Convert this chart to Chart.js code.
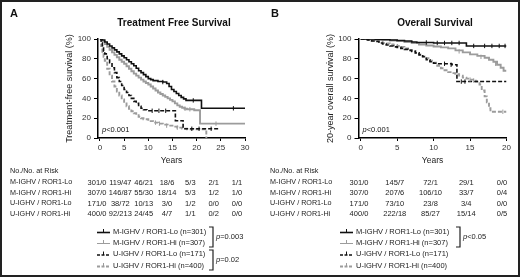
<!DOCTYPE html>
<html>
<head>
<meta charset="utf-8">
<script src="https://cdn.jsdelivr.net/npm/chart.js@4.4.1/dist/chart.umd.min.js"></script>
<style>
    body { margin: 0; background: #fff; }
    #quadro { position: relative; width: 520px; height: 277px; overflow: hidden; }
    canvas { position: absolute; top: 0; }
    #borda { position: absolute; left: 0; top: 0; width: 520px; height: 277px; box-sizing: border-box; border: 2px solid #222; pointer-events: none; }
</style>
</head>
<body>
<div id="quadro">
    <canvas id="chartA" width="260" height="277" style="left:0"></canvas>
    <canvas id="chartB" width="260" height="277" style="left:260px"></canvas>
    <div id="borda"></div>
</div>
<script>
//-------------------------------------------------------------------------------------------
//                                Data
//-------------------------------------------------------------------------------------------
const grupos = ["M-IGHV / ROR1-Lo", "M-IGHV / ROR1-Hi", "U-IGHV / ROR1-Lo", "U-IGHV / ROR1-Hi"];
const nGrupos = [301, 307, 171, 400];

// -------- Panel A: treatment free survival ------------------------------------------------
const tfsMLoT = [0, 0.5, 1, 1.5, 2, 2.5, 3, 3.5, 4, 4.5, 5, 5.5, 6, 6.5, 7, 7.5, 8, 8.5, 9, 9.5, 10, 10.5, 11, 12, 13, 13.8, 14.3, 14.8, 15.3, 15.8, 16.3, 16.8, 17.3, 17.8, 21, 30];
const tfsMLoS = [100, 99, 97, 95, 93, 91, 89, 87, 85, 83, 81, 79, 77, 75, 73, 70.5, 68, 66, 64, 62, 60, 59, 58, 57, 56.5, 55, 52, 49, 47, 45, 43, 41, 39.5, 38, 30, 30];
const tfsMHiT = [0, 0.5, 1, 1.5, 2, 2.5, 3, 3.5, 4, 4.5, 5, 5.5, 6, 6.5, 7, 7.5, 8, 8.5, 9, 9.5, 10, 10.5, 11, 11.5, 12, 12.5, 13, 13.5, 14, 14.5, 15, 15.5, 16, 16.5, 17, 17.5, 18, 19.5, 20.7, 30];
const tfsMHiS = [100, 97.5, 95, 92, 89, 86.5, 84, 81.5, 79, 77, 75, 72.5, 70, 67.5, 65, 63, 61, 59, 57, 55.5, 54, 52, 50, 48, 46, 44.5, 43, 41.5, 40, 38.5, 37, 35, 33, 31.5, 30.5, 29.5, 29, 28, 14.5, 14.5];
const tfsULoT = [0, 0.25, 0.5, 0.75, 1, 1.5, 2, 2.5, 3, 3.5, 4, 4.5, 5, 5.5, 6, 6.5, 7, 7.5, 8, 8.5, 9, 9.7, 15.6, 17.2, 24.5];
const tfsULoS = [100, 96, 92, 88, 85, 80, 76, 71, 66, 61, 57, 53, 49, 46, 43, 40, 37, 35, 32, 30, 28.5, 27.5, 17.5, 9.3, 9.3];
const tfsUHiT = [0, 0.25, 0.5, 0.75, 1, 1.5, 2, 2.5, 3, 3.5, 4, 4.5, 5, 5.5, 6, 6.5, 7, 7.5, 8, 8.5, 9, 10, 11, 12, 13, 14, 15, 16, 17, 18, 22];
const tfsUHiS = [100, 93, 87, 82, 78, 70, 63, 57, 52, 47, 43, 39, 35, 32, 29.5, 27, 25, 23, 21.5, 20, 19, 17, 15.5, 14.5, 13.5, 12.5, 11.5, 10.5, 9.5, 8.8, 0];

// censored cases (tick marks)
const tfsMLoCensT = [13, 19.3, 27.6];
const tfsMLoCensS = [56.5, 38, 30];
const tfsMHiCensT = [17.6, 18.6, 24];
const tfsMHiCensS = [29.5, 29, 14.5];
const tfsULoCensT = [10.8, 12.2, 13.6, 19, 20.5, 23];
const tfsULoCensS = [27.5, 27.5, 27.5, 9.3, 9.3, 9.3];
const tfsUHiCensT = [11.5, 12.3, 13.8, 16];
const tfsUHiCensS = [15.5, 14.5, 12.5, 10.5];

// numbers at risk (No./No.)
const riscoA_MLo = ["301/0", "119/47", "46/21", "18/6", "5/3", "2/1", "1/1"];
const riscoA_MHi = ["307/0", "146/87", "55/30", "18/14", "5/3", "1/2", "1/0"];
const riscoA_ULo = ["171/0", "38/72", "10/13", "3/0", "1/2", "0/0", "0/0"];
const riscoA_UHi = ["400/0", "92/213", "24/45", "4/7", "1/1", "0/2", "0/0"];

// -------- Panel B: overall survival -------------------------------------------------------
const osMLoT = [0, 1, 2, 3, 4, 5, 6, 7, 7.7, 9, 10, 12, 14.5, 20];
const osMLoS = [100, 100, 99.5, 99.5, 99, 98.5, 98, 97, 96.5, 96.5, 96, 96, 93, 93];
const osMHiT = [0, 1, 2, 3, 4, 5, 6, 7, 8, 9, 10, 11, 12, 13, 14, 15, 16, 17, 17.6, 18.2, 18.7, 19.2, 19.6, 20];
const osMHiS = [100, 100, 99.5, 99, 98.5, 98, 97, 96, 94.5, 93.5, 92.5, 91.5, 90.5, 88.5, 86.5, 84.5, 83, 81, 79, 77, 74, 71, 68, 68];
const osULoT = [0, 0.5, 1, 1.5, 2, 2.5, 3, 3.5, 4, 4.5, 5, 5.5, 6, 6.5, 7, 7.5, 8, 8.5, 9, 9.5, 10, 10.5, 12.5, 13.2, 20];
const osULoS = [100, 99.5, 99, 98, 97.5, 96, 95, 94, 93, 92, 91.5, 90.5, 89.5, 88.5, 87.5, 86, 84, 82, 79, 77, 75.5, 75, 74, 57, 57];
const osUHiT = [0, 0.5, 1, 1.5, 2, 2.5, 3, 3.5, 4, 4.5, 5, 5.5, 6, 6.5, 7, 7.5, 8, 8.5, 9, 9.5, 10, 10.5, 11, 11.5, 12, 12.5, 13, 13.5, 14, 14.5, 15, 15.8, 16.3, 16.6, 17, 17.3, 17.6, 17.8, 20];
const osUHiS = [100, 99.5, 99, 98.5, 98, 97, 96, 95.5, 94.5, 94, 93, 92, 90.5, 89, 88, 86, 84.5, 82.5, 80.5, 78, 76, 73, 70.5, 68.5, 66.5, 65.5, 64.5, 63, 61, 60, 59, 57, 54, 48, 42, 36, 30, 26.5, 26.5];

const osMLoCensT = [9, 10.5, 11.5, 12.5, 13.5, 15.5, 17, 18, 19, 19.8];
const osMLoCensS = [96.5, 96, 96, 96, 96, 93, 93, 93, 93, 93];
const osMHiCensT = [13.5, 16.5, 18.5];
const osMHiCensS = [87.5, 82, 75];
const osULoCensT = [11.5, 12.4, 13.8, 14.3];
const osULoCensS = [75, 74, 57, 57];
const osUHiCensT = [15, 15.5, 19.5];
const osUHiCensS = [59, 58, 26.5];

const riscoB_MLo = ["301/0", "145/7", "72/1", "29/1", "0/0"];
const riscoB_MHi = ["307/0", "207/6", "106/10", "33/7", "0/4"];
const riscoB_ULo = ["171/0", "73/10", "23/8", "3/4", "0/0"];
const riscoB_UHi = ["400/0", "222/18", "85/27", "15/14", "0/5"];

//-------------------------------------------------------------------------------------------
//                                Styles and helpers
//-------------------------------------------------------------------------------------------
const FONTE = '"Liberation Sans", Arial, Helvetica, sans-serif';
const PRETO = "#111";
const CINZA = "#9c9c9c";
const corGrupo = [PRETO, CINZA, PRETO, CINZA];
const larguraGrupo = [1.6, 1.9, 1.6, 1.9];
const tracoGrupo = [[], [], [4, 2], [4, 2]];

function pontos(ts, ss) {
    return ts.map((t, i) => ({ x: t, y: ss[i] }));
}

function curva(ts, ss, g) {
    return {
        data: pontos(ts, ss),
        borderColor: corGrupo[g],
        borderWidth: larguraGrupo[g],
        borderDash: tracoGrupo[g],
        stepped: "before",
        pointRadius: 0,
        fill: false
    };
}

function censuras(ts, ss, g) {
    return {
        data: pontos(ts, ss),
        showLine: false,
        pointStyle: "line",
        rotation: 90,
        pointRadius: 2.2,
        borderColor: corGrupo[g],
        pointBorderColor: corGrupo[g],
        pointBorderWidth: 1
    };
}

// writes "p" in italics followed by the rest of the text
function escreveP(ctx, resto, x, y) {
    ctx.textAlign = "left";
    ctx.font = "italic 7.5px " + FONTE;
    ctx.fillText("p", x, y);
    const w = ctx.measureText("p").width;
    ctx.font = "7.5px " + FONTE;
    ctx.fillText(resto, x + w, y);
}

// -------- Plugin for panel letter, title, risk table and legend ---------------------------
function painelPlugin(cfg) {
    return {
        id: "painel" + cfg.letra,
        afterDraw(chart) {
            const ctx = chart.ctx;
            const area = chart.chartArea;
            ctx.save();
            ctx.fillStyle = "#111";
            ctx.textBaseline = "middle";

            ctx.textAlign = "left";
            ctx.font = "bold 11px " + FONTE;
            ctx.fillText(cfg.letra, cfg.letraX, 14);

            ctx.textAlign = "center";
            ctx.font = "bold 10px " + FONTE;
            ctx.fillText(cfg.titulo, (area.left + area.right) / 2 + 2.5, 23);

            escreveP(ctx, "<0.001", area.left + 4, 130);

            // table of numbers at risk
            ctx.fillStyle = "#222";
            ctx.textAlign = "left";
            ctx.font = "7.2px " + FONTE;
            ctx.fillText("No./No. at Risk", 10, 171);
            const linhasY = [182.5, 193, 203.5, 214];
            cfg.risco.forEach((linha, i) => {
                ctx.textAlign = "left";
                ctx.font = "7.2px " + FONTE;
                ctx.fillText(grupos[i], 10, linhasY[i]);
                ctx.textAlign = "center";
                ctx.font = "7.5px " + FONTE;
                const passo = (cfg.colFim - cfg.colIni) / (linha.length - 1);
                linha.forEach((v, j) => ctx.fillText(v, cfg.colIni + j * passo, linhasY[i]));
            });

            // legend
            const legY = [231.5, 242.5, 254, 265.5];
            grupos.forEach((g, i) => {
                const y = legY[i];
                ctx.strokeStyle = corGrupo[i];
                ctx.lineWidth = i === 1 ? 1 : larguraGrupo[i];
                ctx.setLineDash(i >= 2 ? [3, 1.5] : []);
                ctx.beginPath();
                ctx.moveTo(cfg.legX, y + 1);
                ctx.lineTo(cfg.legX + 13, y + 1);
                ctx.stroke();
                ctx.setLineDash([]);
                ctx.lineWidth = 1;
                ctx.beginPath();
                ctx.moveTo(cfg.legX + 6.5, y + 1);
                ctx.lineTo(cfg.legX + 6.5, y - 2.5);
                ctx.stroke();
                ctx.fillStyle = "#222";
                ctx.textAlign = "left";
                ctx.font = "7.5px " + FONTE;
                ctx.fillText(g + " (n=" + nGrupos[i] + ")", cfg.legX + 16, y);
            });

            // brackets with p values
            ctx.strokeStyle = "#222";
            ctx.lineWidth = 1.2;
            cfg.chaves.forEach((c) => {
                ctx.beginPath();
                ctx.moveTo(cfg.chaveX - 4, c.y0);
                ctx.lineTo(cfg.chaveX, c.y0);
                ctx.lineTo(cfg.chaveX, c.y1);
                ctx.lineTo(cfg.chaveX - 4, c.y1);
                ctx.stroke();
                ctx.fillStyle = "#222";
                escreveP(ctx, c.texto, cfg.chaveX + 3, (c.y0 + c.y1) / 2);
            });
            ctx.restore();
        }
    };
}

// -------- Common options for the two panels -----------------------------------------------
function opcoes(xMin, xMax, padEsq, padDir, tituloY) {
    const fonteTick = { family: FONTE, size: 8 };
    return {
        responsive: false,
        animation: false,
        layout: { padding: { left: padEsq, right: padDir, top: 39, bottom: 110 } },
        plugins: { legend: { display: false }, tooltip: { enabled: false }, title: { display: false } },
        scales: {
            x: {
                type: "linear",
                min: xMin,
                max: xMax,
                afterFit: (s) => { s.height = 29; },
                ticks: { stepSize: 5, includeBounds: false, font: fonteTick, color: "#333", padding: 2, maxRotation: 0 },
                grid: { drawOnChartArea: false, tickLength: 3, tickColor: "#000", tickWidth: 1 },
                border: { color: "#000", width: 1.5 },
                title: { display: true, text: "Years", color: "#222", font: { family: FONTE, size: 8.5 }, padding: { top: 0, bottom: 1.2 } }
            },
            y: {
                min: 0,
                max: 100,
                afterFit: (s) => { s.width = 39; },
                ticks: { stepSize: 20, font: fonteTick, color: "#333", padding: 3 },
                grid: { drawOnChartArea: false, tickLength: 4, tickColor: "#000", tickWidth: 1 },
                border: { color: "#000", width: 1.5 },
                title: { display: true, text: tituloY, color: "#222", font: { family: FONTE, size: 9 }, padding: { top: 5.6, bottom: 0 } }
            }
        }
    };
}

// -------- Panel A ------------------------------------------------------------------------
new Chart(document.getElementById("chartA").getContext("2d"), {
    type: "line",
    data: {
        datasets: [
            censuras(tfsMLoCensT, tfsMLoCensS, 0),
            censuras(tfsULoCensT, tfsULoCensS, 2),
            censuras(tfsMHiCensT, tfsMHiCensS, 1),
            censuras(tfsUHiCensT, tfsUHiCensS, 3),
            curva(tfsMLoT, tfsMLoS, 0),
            curva(tfsULoT, tfsULoS, 2),
            curva(tfsMHiT, tfsMHiS, 1),
            curva(tfsUHiT, tfsUHiS, 3)
        ]
    },
    options: opcoes(-0.4, 30, 59, 15, "Treatment-free survival (%)"),
    plugins: [painelPlugin({
        letra: "A", letraX: 10, titulo: "Treatment Free Survival",
        risco: [riscoA_MLo, riscoA_MHi, riscoA_ULo, riscoA_UHi],
        colIni: 97, colFim: 237, legX: 97, chaveX: 213,
        chaves: [{ y0: 227, y1: 247, texto: "=0.003" }, { y0: 250, y1: 270, texto: "=0.02" }]
    })]
});

// -------- Panel B ------------------------------------------------------------------------
new Chart(document.getElementById("chartB").getContext("2d"), {
    type: "line",
    data: {
        datasets: [
            censuras(osMLoCensT, osMLoCensS, 0),
            censuras(osULoCensT, osULoCensS, 2),
            censuras(osMHiCensT, osMHiCensS, 1),
            censuras(osUHiCensT, osUHiCensS, 3),
            curva(osMLoT, osMLoS, 0),
            curva(osULoT, osULoS, 2),
            curva(osMHiT, osMHiS, 1),
            curva(osUHiT, osUHiS, 3)
        ]
    },
    options: opcoes(-0.3, 20, 59.5, 13.5, "20-year overall survival (%)"),
    plugins: [painelPlugin({
        letra: "B", letraX: 11, titulo: "Overall Survival",
        risco: [riscoB_MLo, riscoB_MHi, riscoB_ULo, riscoB_UHi],
        colIni: 99, colFim: 242, legX: 80, chaveX: 200,
        chaves: [{ y0: 227, y1: 247, texto: "<0.05" }]
    })]
});
</script>
</body>
</html>
